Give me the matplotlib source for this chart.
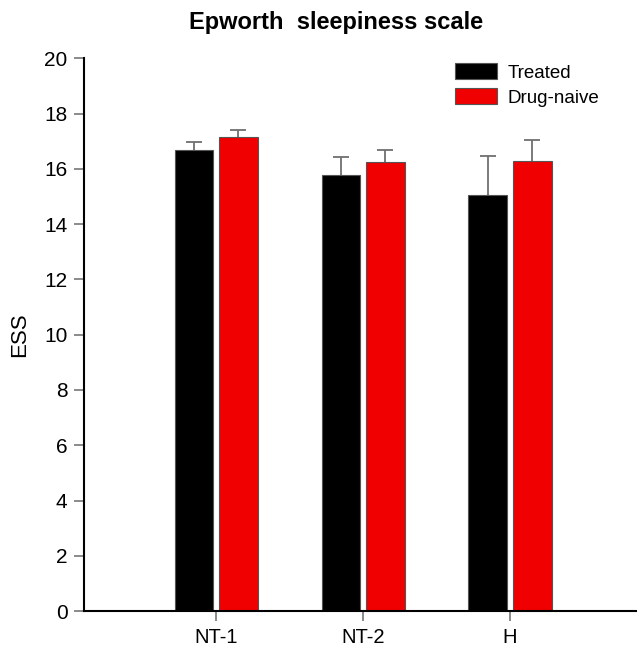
import matplotlib
matplotlib.use("Agg")
import matplotlib.pyplot as plt
import numpy as np

plt.rcParams["font.family"] = ["Liberation Sans", "DejaVu Sans"]

categories = ["NT-1", "NT-2", "H"]
treated = [16.7, 15.77, 15.04]
treated_err = [0.26, 0.65, 1.42]
naive = [17.14, 16.24, 16.27]
naive_err = [0.26, 0.46, 0.76]
yticks = list(range(0, 21, 2))

fig = plt.figure(figsize=(6.37, 6.48), dpi=100)
ax = fig.add_axes([0.132, 0.057, 0.868, 0.853])
x = np.arange(len(categories))
w = 0.265
off = 0.15
ecol = "#707070"
for xs, vals, errs, col, lab in [(x - off, treated, treated_err, "black", "Treated"),
                                 (x + off, naive, naive_err, "#f00000", "Drug-naive")]:
    ax.bar(xs, vals, w, color=col, edgecolor="#555555", linewidth=0.8, label=lab, zorder=2)
    vals = np.array(vals)
    errs = np.array(errs)
    ax.errorbar(xs, vals, yerr=[np.zeros(3), errs], fmt="none", ecolor=ecol,
                elinewidth=1.3, capsize=0, zorder=1)
    ax.plot(xs, vals + errs, linestyle="none", marker="_", markersize=12,
            markeredgewidth=1.3, color=ecol, zorder=1)
ax.set_xlim(-0.898, 2.864)
ax.set_ylim(0, 20)
ax.set_yticks(yticks)
ax.set_xticks(x)
ax.set_xticklabels(categories, fontsize=14.5)
ax.tick_params(axis="y", labelsize=15, direction="out", length=7, color="#777777", width=1.2, pad=5)
ax.tick_params(axis="x", direction="out", length=7, color="#777777", width=1.2, pad=5)
for s in ["top", "right"]:
    ax.spines[s].set_visible(False)
for s in ["left", "bottom"]:
    ax.spines[s].set_linewidth(1.5)
ax.set_ylabel("ESS", fontsize=16, labelpad=10)
fig.text(0.527, 0.966, "Epworth  sleepiness scale", ha="center", va="center",
         fontsize=17, fontweight="bold")
leg = ax.legend(loc="upper left", bbox_to_anchor=(455 / 637, 1 - 63 / 648),
                bbox_transform=fig.transFigure, frameon=False, fontsize=13.5,
                borderpad=0, borderaxespad=0,
                handlelength=2.24, handleheight=0.95, labelspacing=0.35, handletextpad=0.55)
fig.savefig("out.png", dpi=100)
